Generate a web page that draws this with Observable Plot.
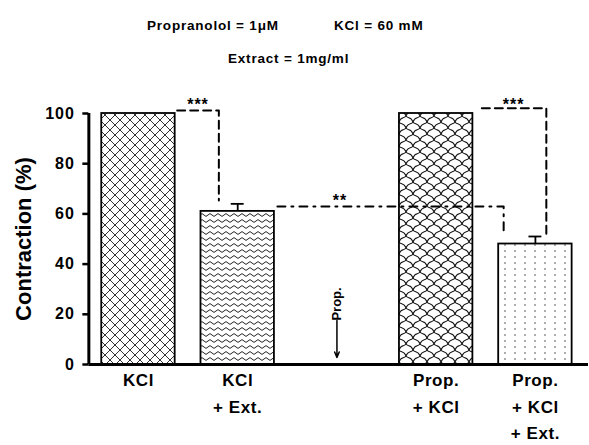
<!DOCTYPE html>
<html>
<head>
<meta charset="utf-8">
<script src="https://cdn.jsdelivr.net/npm/d3@7"></script>
<script src="https://cdn.jsdelivr.net/npm/@observablehq/plot@0.6"></script>
<style>
  body { margin: 0; background: #fff; font-family: "Liberation Sans", Arial, sans-serif; color: #000; }
  #title { position: relative; width: 589px; height: 80px; font-weight: bold; font-size: 13.5px; letter-spacing: 0.8px; }
  #title span { position: absolute; white-space: nowrap; line-height: 16px; }
  #chart svg { display: block; }
</style>
</head>
<body>
<div id="title">
  <span style="left:147px; top:18px;">Propranolol = 1μM</span>
  <span style="left:334px; top:18px;">KCl = 60 mM</span>
  <span style="left:228px; top:51px;">Extract = 1mg/ml</span>
</div>
<div id="chart"></div>
<script>
// ---- data ----
const positions = [0, 1, 2, 3, 4];
const categoryLabels = ["KCl", "KCl\n+ Ext.", "", "Prop.\n+ KCl", "Prop.\n+ KCl\n+ Ext."];
const contraction = [100, 61, null, 100, 48];
const sem = [0, 3, null, 0, 3];
const barPatterns = ["url(#pCross)", "url(#pWave)", null, "url(#pScale)", "url(#pDots)"];
const yTicks = [0, 20, 40, 60, 80, 100];

// significance brackets (x in category index units, y in % contraction)
const bracketX = [[0.39, 0.81, 0.81], [3.46, 4.11, 4.11], [1.40, 3.68, 3.68]];
const bracketY = [[101.2, 101.2, 65.3], [102.1, 102.1, 51.4], [62.9, 62.9, 52.7]];
const bracketLabels = ["***", "***", "**"];
const bracketLabelX = [0.6, 3.78, 2.03];
const bracketLabelY = [103.5, 103.5, 65];

// propranolol addition arrow
const arrowX = [2];
const arrowTop = [17.5];
const arrowBottom = [2.8];
const arrowLabel = ["Prop."];

// ---- tables ----
const bars = positions.map((x, i) => ({x, value: contraction[i], sem: sem[i], pattern: barPatterns[i], label: categoryLabels[i]}))
  .filter(d => d.value != null);
const errs = bars.filter(d => d.sem > 0);
const brackets = bracketX.flatMap((xs, b) => xs.map((x, k) => ({b, x, y: bracketY[b][k]})));
const bracketText = bracketLabels.map((t, i) => ({t, x: bracketLabelX[i], y: bracketLabelY[i]}));
const arrows = arrowX.map((x, i) => ({x, top: arrowTop[i], bottom: arrowBottom[i], label: arrowLabel[i]}));
const cats = positions.map((x, i) => ({x, label: categoryLabels[i]})).filter(d => d.label);

const font = "Liberation Sans, Arial, sans-serif";

const plot = Plot.plot({
  width: 589,
  height: 365,
  marginTop: 33,
  marginBottom: 81,
  marginLeft: 88.35,
  marginRight: 1,
  style: {fontFamily: font, color: "black", background: "white", overflow: "visible"},
  x: {type: "linear", domain: [-0.5, 4.535], axis: null},
  y: {domain: [0, 100], axis: null},
  color: {type: "identity"},
  marks: [
    Plot.rectY(bars, {x1: d => d.x - 0.37, x2: d => d.x + 0.37, y: "value", fill: "pattern", stroke: "black", strokeWidth: 1.8}),
    Plot.ruleX(errs, {x: "x", y1: "value", y2: d => d.value + d.sem, stroke: "black", strokeWidth: 1.8}),
    Plot.ruleY(errs, {y: d => d.value + d.sem, x1: d => d.x - 0.065, x2: d => d.x + 0.065, stroke: "black", strokeWidth: 1.8}),
    Plot.line(brackets.filter(d => d.b < 2), {x: "x", y: "y", z: "b", stroke: "black", strokeWidth: 2, strokeDasharray: "8,5", curve: "linear"}),
    Plot.line(brackets.filter(d => d.b === 2), {x: "x", y: "y", z: "b", stroke: "black", strokeWidth: 2, strokeDasharray: "8,6,2,6", curve: "linear"}),
    Plot.text(bracketText, {x: "x", y: "y", text: "t", fontSize: 16, fontWeight: "bold", lineAnchor: "middle", ariaDescription: "stars"}),
    Plot.arrow(arrows, {x1: "x", x2: "x", y1: "top", y2: "bottom", stroke: "black", strokeWidth: 1.5, headLength: 6, headAngle: 45}),
    Plot.text(arrows, {x: "x", y: "top", text: "label", rotate: -90, textAnchor: "start", lineAnchor: "middle", fontSize: 13, fontWeight: "bold", ariaDescription: "arrow label"}),
    Plot.axisY({ticks: yTicks, tickSize: 6, tickPadding: 8, fontSize: 16, fontWeight: "bold", strokeWidth: 2.5, label: null}),
    Plot.text(["Contraction (%)"], {frameAnchor: "left", textAnchor: "middle", dx: -65, dy: 0, rotate: -90, fontSize: 22, fontWeight: "bold", lineAnchor: "middle", ariaDescription: "y label"}),
    Plot.text(cats, {x: "x", text: "label", frameAnchor: "bottom", textAnchor: "middle", lineAnchor: "top", dy: 3, fontSize: 17, fontWeight: "bold", lineHeight: 1.56, ariaDescription: "category labels"}),
    Plot.ruleY([0], {stroke: "black", strokeWidth: 3}),
    Plot.ruleX([-0.5], {y1: 0, y2: 100, stroke: "black", strokeWidth: 3})
  ]
});

// patterns for the bar fills
const ns = "http://www.w3.org/2000/svg";
const defs = document.createElementNS(ns, "defs");
defs.innerHTML = `
  <pattern id="pCross" patternUnits="userSpaceOnUse" width="10" height="10">
    <rect width="10" height="10" fill="white"/>
    <path d="M0,0 L10,10 M10,0 L0,10" stroke="#333" stroke-width="1" fill="none"/>
  </pattern>
  <pattern id="pWave" patternUnits="userSpaceOnUse" width="8" height="6">
    <rect width="8" height="6" fill="white"/>
    <path d="M0,3 Q2,0.2 4,3 T8,3" stroke="#222" stroke-width="1" fill="none"/>
  </pattern>
  <pattern id="pScale" patternUnits="userSpaceOnUse" width="14" height="12">
    <rect width="14" height="12" fill="white"/>
    <path d="M0,12 C2,6 5,9 7,6 C9,9 12,6 14,12 M-7,6 C-5,0 -2,3 0,0 C2,3 5,0 7,6 M7,6 C9,0 12,3 14,0 C16,3 19,0 21,6" stroke="#111" stroke-width="1.1" fill="none"/>
  </pattern>
  <pattern id="pDots" patternUnits="userSpaceOnUse" width="10" height="6">
    <rect width="10" height="6" fill="white"/>
    <circle cx="5" cy="3" r="0.8" fill="#444"/>
  </pattern>`;
plot.insertBefore(defs, plot.firstChild);

// letter spacing to match the reference typography
const setSpacing = (sel, v) => plot.querySelectorAll(sel).forEach(g => g.setAttribute("letter-spacing", v));
setSpacing('g[aria-label="y-axis tick label"]', "1");
setSpacing('g[aria-description="category labels"]', "0.6");
setSpacing('g[aria-description="stars"]', "1");

document.getElementById("chart").appendChild(plot);
</script>
</body>
</html>
